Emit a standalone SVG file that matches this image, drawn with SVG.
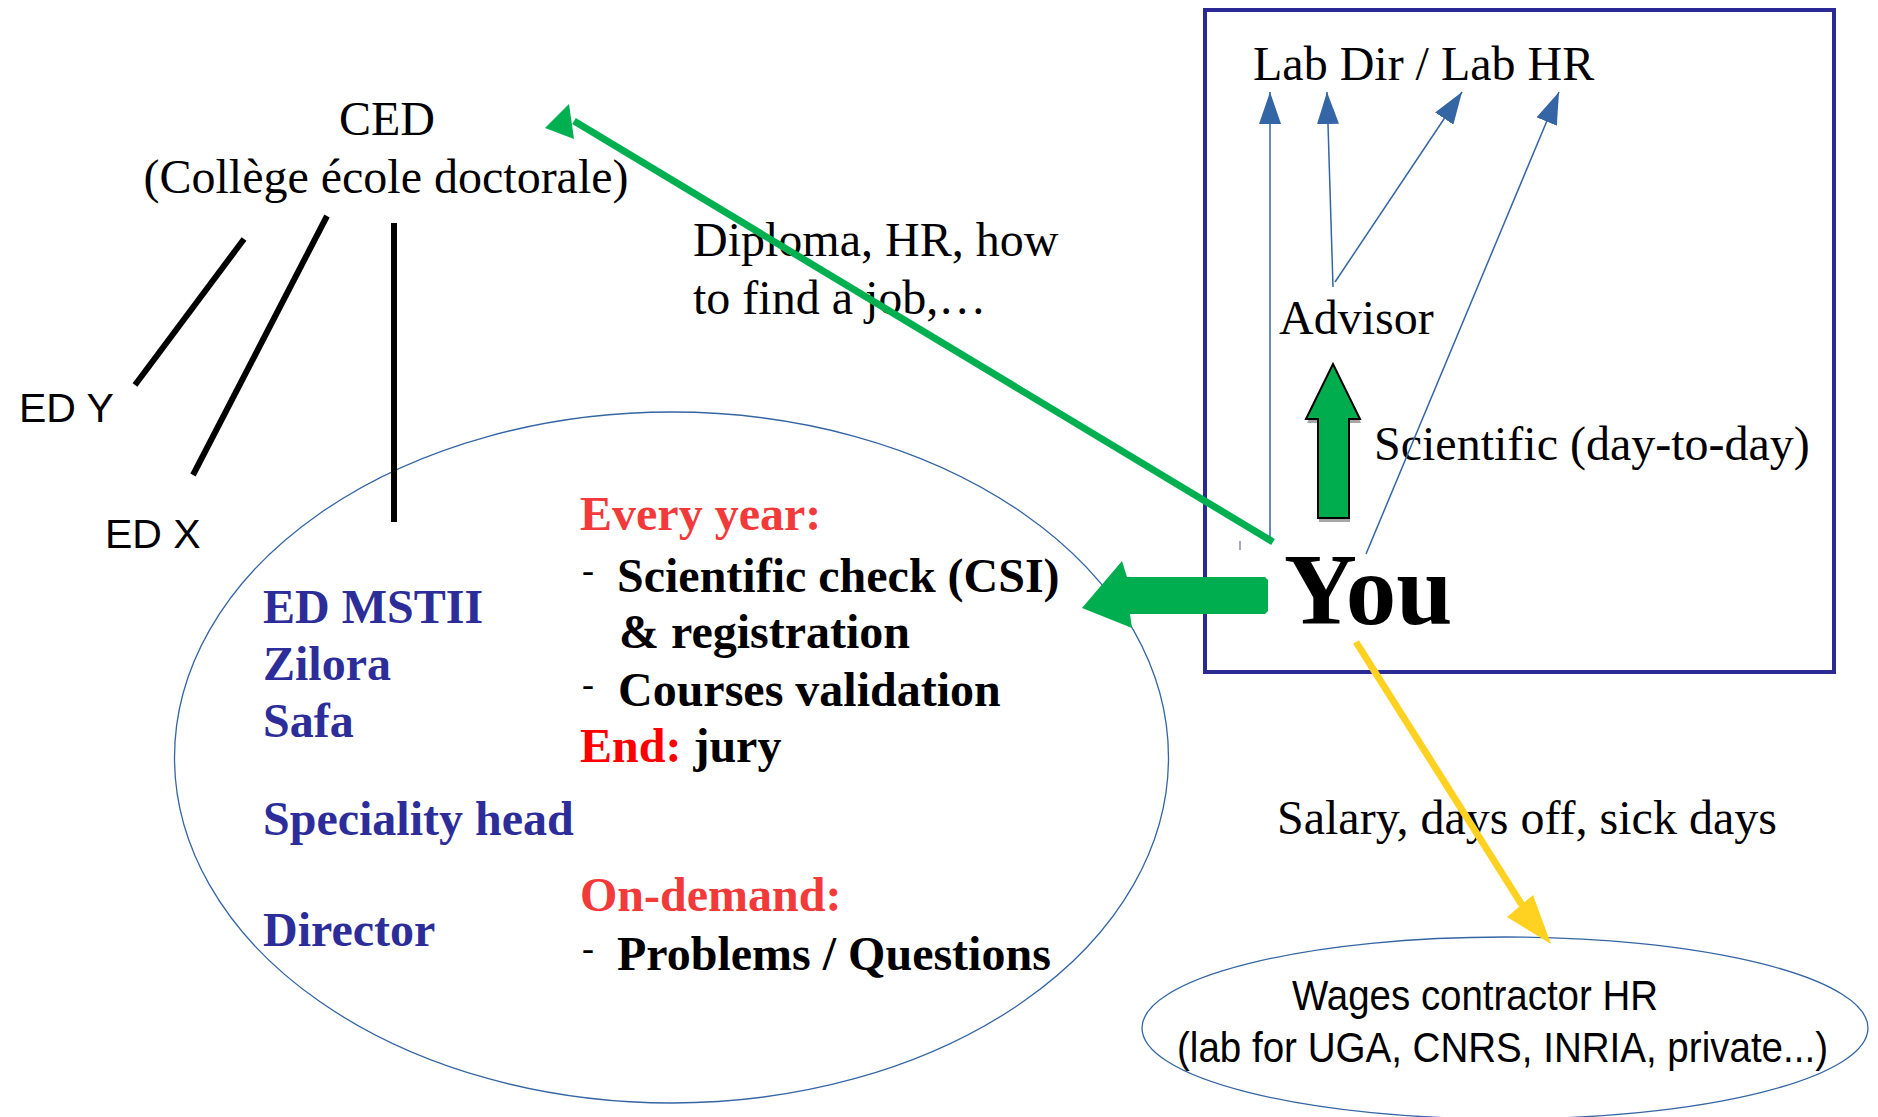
<svg xmlns="http://www.w3.org/2000/svg" width="1878" height="1117" viewBox="0 0 1878 1117">
<style>
  .serif { font-family: "Liberation Serif", "Times New Roman", serif; font-size: 48px; fill: #000; }
  .bold { font-weight: bold; }
  .big { font-size: 101px; }
  .sans { font-family: "Liberation Sans", Arial, sans-serif; fill: #000; }
  .s41 { font-size: 41px; }
  .s42 { font-size: 42px; }
  .blue { fill: #2d2d9a; }
  .red { fill: #f23a3a; }
  .pure { fill: #ff0000; }
  .dash { font-family: "Liberation Serif", serif; font-size: 36px; fill: #000; }
  .blk { stroke: #000; stroke-width: 6; fill: none; }
  .thin { stroke: #3465a4; stroke-width: 1.5; fill: none; marker-end: url(#bh); }
  .oval { fill: none; stroke: #3465a4; stroke-width: 1.3; }
</style>
<defs>
  <marker id="bh" viewBox="0 0 32 22" refX="32" refY="11" markerWidth="32" markerHeight="22" markerUnits="userSpaceOnUse" orient="auto">
    <path d="M0,0 L32,11 L0,22 z" fill="#3465a4"/>
  </marker>
</defs>
<rect width="1878" height="1117" fill="#fff"/>

<g id="ed-ellipse">
  <ellipse class="oval" cx="671.5" cy="757.5" rx="497" ry="345.5"/>
  <text class="serif bold blue" x="263" y="623">ED MSTII</text>
  <text class="serif bold blue" x="263" y="680">Zilora</text>
  <text class="serif bold blue" x="263" y="737">Safa</text>
  <text class="serif bold blue" x="263" y="835">Speciality head</text>
  <text class="serif bold blue" x="263" y="946">Director</text>
  <text class="serif bold red" x="580" y="530">Every year:</text>
  <text class="dash" x="582" y="582">-</text>
  <text class="serif bold" x="617" y="592">Scientific check (CSI)</text>
  <text class="serif bold" x="619" y="648">&amp; registration</text>
  <text class="dash" x="582" y="696">-</text>
  <text class="serif bold" x="618" y="706">Courses validation</text>
  <text class="serif bold" x="580" y="762"><tspan class="pure">End:</tspan> jury</text>
  <text class="serif bold red" x="580" y="911">On-demand:</text>
  <text class="dash" x="582" y="960">-</text>
  <text class="serif bold" x="617" y="970">Problems / Questions</text>
</g>

<g id="ced">
  <text class="serif" x="387" y="135" text-anchor="middle">CED</text>
  <text class="serif" x="386" y="193" text-anchor="middle">(Collège école doctorale)</text>
</g>
<g id="ed-y"><text class="sans s41" x="19" y="422">ED Y</text></g>
<g id="ed-x"><text class="sans s41" x="105" y="548">ED X</text></g>

<g id="lab-box">
  <rect x="1205" y="10" width="629" height="662" fill="none" stroke="#2a2a96" stroke-width="4"/>
  <text class="serif" x="1253" y="80">Lab Dir / Lab HR</text>
  <text class="serif" x="1279" y="334">Advisor</text>
  <text class="serif" x="1374" y="460">Scientific (day-to-day)</text>
</g>

<g id="you">
  <text class="serif bold big" x="1284" y="624">You</text>
</g>

<g id="wages">
  <ellipse class="oval" cx="1505" cy="1028" rx="363" ry="91"/>
  <text class="sans s42" x="1292" y="1010" textLength="366" lengthAdjust="spacingAndGlyphs">Wages contractor HR</text>
  <text class="sans s42" x="1177" y="1062" textLength="651" lengthAdjust="spacingAndGlyphs">(lab for UGA, CNRS, INRIA, private...)</text>
</g>

<g id="labels">
  <text class="serif" x="693" y="256">Diploma, HR, how</text>
  <text class="serif" x="693" y="314">to find a job,…</text>
  <text class="serif" x="1277" y="834">Salary, days off, sick days</text>
</g>

<g id="connectors">
  <line class="blk" x1="244" y1="239" x2="135" y2="385"/>
  <line class="blk" x1="327" y1="216" x2="193" y2="475"/>
  <line class="blk" x1="394" y1="223" x2="394" y2="522"/>

  <line class="thin" x1="1270" y1="537" x2="1270" y2="92"/>
  <line class="thin" x1="1333" y1="287" x2="1327" y2="92"/>
  <line class="thin" x1="1335" y1="282" x2="1462" y2="92"/>
  <line class="thin" x1="1366" y1="554" x2="1559" y2="92"/>

  <line x1="1240" y1="541" x2="1240" y2="550" stroke="#557" stroke-width="1"/>

  <polygon points="1307,423 1334,368 1361,423 1350,423 1350,522 1319,522 1319,423" fill="#a6a6a6"/>
  <polygon points="1306,419 1333,364 1360,419 1349,419 1349,518 1318,518 1318,419" fill="#00ad4e" stroke="#000" stroke-width="2" stroke-linejoin="miter"/>

  <line x1="1273" y1="542" x2="574" y2="121" stroke="#00b050" stroke-width="7"/>
  <polygon points="545,128 569,104 574,139" fill="#00b050"/>

  <polygon points="1082,608 1122,561 1127,577 1265,577 1268,580 1268,611 1265,614 1130,614 1132,628" fill="#00ae50"/>

  <line x1="1356" y1="642" x2="1522" y2="905" stroke="#ffd221" stroke-width="7"/>
  <polygon points="1551,944 1507,917 1533,895" fill="#ffd221"/>
</g>
</svg>
